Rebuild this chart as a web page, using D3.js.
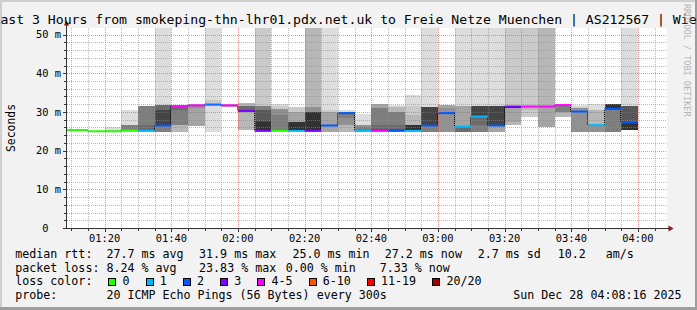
<!DOCTYPE html>
<html>
<head>
<meta charset="utf-8">
<script src="https://cdn.jsdelivr.net/npm/d3@7"></script>
<style>
  body { margin: 0; background: #f2f2f2; }
  svg { display: block; font-family: "DejaVu Sans Mono", monospace; }
  text { white-space: pre; }
</style>
</head>
<body>
<svg id="graph" width="697" height="310"></svg>
<script>
// 5 minute bins (start time), median rtt in ms, lost pings out of 20
var binTimes = ["01:05","01:10","01:15","01:20","01:25","01:30","01:35","01:40","01:45","01:50",
  "01:55","02:00","02:05","02:10","02:15","02:20","02:25","02:30","02:35","02:40",
  "02:45","02:50","02:55","03:00","03:05","03:10","03:15","03:20","03:25","03:30",
  "03:35","03:40","03:45","03:50","03:55"];
var medians = [25.3,25.3,25.0,25.0,25.2,25.1,26.5,31.4,31.7,31.9,
  31.7,30.3,25.1,25.1,25.1,25.1,26.5,29.7,25.1,25.1,
  25.1,25.1,26.5,29.7,26.2,28.8,26.5,31.4,31.4,31.4,
  31.8,30.1,26.6,30.8,27.3];
var losses = [0,0,0,0,0,1,2,5,5,2,
  5,3,3,0,1,3,2,2,1,4,
  2,1,2,2,1,1,2,3,5,4,
  4,2,1,2,2];
// sorted ping rtts (ms) per bin, 20 pings -> smoke
var pings = [
  [25.1,25.1,25.2,25.2,25.2,25.2,25.3,25.3,25.3,25.3, 25.3,25.3,25.3,25.3,25.4,25.4,25.4,25.4,25.5,25.5],
  [25.1,25.1,25.2,25.2,25.2,25.2,25.3,25.3,25.3,25.3, 25.3,25.3,25.3,25.3,25.4,25.4,25.4,25.4,25.5,25.5],
  [24.8,24.8,24.9,24.9,24.9,24.9,25.0,25.0,25.0,25.0, 25.0,25.0,25.0,25.0,25.1,25.1,25.1,25.1,25.2,25.2],
  [24.8,24.8,24.9,24.9,24.9,24.9,25.0,25.0,25.0,25.0, 25.0,25.0,25.0,25.1,25.1,25.1,25.1,25.2,25.3,26.2],
  [24.9,24.9,25.0,25.0,25.0,25.1,25.1,25.1,25.2,25.2, 25.2,25.3,25.3,25.4,26.6,26.7,26.7,26.7,26.7,30.6],
  [24.9,25.0,25.0,25.0,25.0,25.1,25.1,25.1,25.1,25.1, 25.2,25.3,25.4,26.6,31.6,31.6,31.6,31.6,31.6,31.6],
  [24.9,24.9,24.9,24.9,24.9,24.9,26.4,26.4,26.4,26.4, 26.6,30.6,30.6,31.9,31.9,31.9,31.9,31.9,31.9,60],
  [24.9,24.9,24.9,26.7,26.7,26.7,30.4,31.2,31.2,31.2, 31.5,31.5,31.6,31.6,31.7,31.7,31.7,31.8,31.8,31.8],
  [26.4,26.4,26.4,26.4,31.0,31.5,31.5,31.5,31.5,31.6, 31.8,31.8,31.8,31.9,31.9,31.9,31.9,32.0,32.0,32.0],
  [24.9,31.8,31.8,31.8,31.8,31.8,31.8,31.8,31.8,31.8, 32.1,32.1,32.1,32.1,32.1,32.1,32.1,32.1,33.2,60],
  [31.3,31.4,31.4,31.5,31.5,31.6,31.6,31.6,31.7,31.7, 31.7,31.7,31.8,31.8,31.8,31.9,31.9,32.0,32.0,32.1],
  [25.3,25.3,25.3,30.1,30.1,30.1,30.1,30.1,30.2,30.2, 30.4,30.5,30.6,31.6,31.6,31.6,31.6,32.3,32.3,32.3],
  [25.0,25.0,25.0,25.0,25.0,25.0,25.1,25.1,25.1,25.2, 27.5,27.6,30.6,30.6,31.6,31.6,31.6,31.6,60,60],
  [25.0,25.0,25.0,25.0,25.0,25.0,25.1,25.1,25.1,25.1, 25.3,25.3,25.3,25.3,29.1,30.8,30.8,30.8,31.5,32.1],
  [25.0,25.0,25.0,25.0,25.1,25.1,25.1,25.2,25.2,25.3, 27.5,27.5,27.5,27.5,27.5,27.5,30.1,30.1,31.4,31.4],
  [25.0,25.0,25.0,25.0,25.0,25.1,25.1,25.1,25.1,25.2, 30.1,30.1,30.1,30.1,30.1,31.4,31.4,60,60,60],
  [24.9,24.9,24.9,24.9,26.4,26.4,26.4,26.4,26.4,26.4, 26.6,26.6,26.6,26.6,26.6,26.6,30.1,30.1,30.6,60],
  [24.9,24.9,24.9,26.7,26.7,28.4,29.5,29.5,29.5,29.5, 29.9,30.0,30.0,30.0,30.0,30.0,30.0,30.0,30.0,30.6],
  [24.9,24.9,25.0,25.0,25.0,25.0,25.0,25.1,25.1,25.1, 25.2,25.3,25.3,25.4,26.2,26.7,26.7,26.7,26.7,29.5],
  [25.0,25.0,25.0,25.0,25.0,25.0,25.0,25.1,25.1,25.1, 25.2,25.4,25.5,26.7,31.0,31.0,32.1,32.1,32.1,32.1],
  [25.0,25.0,25.0,25.0,25.0,25.0,25.0,25.1,25.1,25.1, 25.3,25.4,25.5,26.5,30.1,30.1,30.1,31.4,31.4,31.9],
  [24.9,24.9,25.0,25.0,25.0,25.0,25.0,25.1,25.1,25.2, 26.6,26.6,26.6,26.6,26.6,26.6,26.7,29.3,31.6,34.3],
  [24.9,24.9,24.9,24.9,24.9,24.9,26.4,26.4,26.4,26.4, 26.6,31.4,31.4,31.4,31.4,31.4,31.4,31.4,31.4,60],
  [24.9,24.9,24.9,24.9,24.9,29.5,29.5,29.5,29.6,29.6, 29.8,29.9,29.9,29.9,29.9,31.0,31.9,31.9,31.9,31.9],
  [24.9,24.9,24.9,24.9,24.9,24.9,24.9,26.1,26.1,26.1, 26.3,26.3,26.3,26.3,26.3,26.3,31.6,31.6,31.6,60],
  [24.9,24.9,24.9,24.9,24.9,24.9,26.7,28.7,28.7,28.7, 28.9,31.6,31.6,31.6,31.6,31.6,31.6,31.6,31.6,60],
  [24.9,24.9,24.9,24.9,26.4,26.4,26.4,26.4,26.4,26.4, 26.6,31.6,31.6,31.6,31.6,31.6,31.6,31.6,31.6,60],
  [26.5,26.5,26.5,27.5,31.0,31.0,31.0,31.0,31.0,31.0, 31.5,31.5,31.5,31.5,31.5,31.5,31.5,31.5,60,60],
  [28.6,28.6,30.6,31.2,31.2,31.2,31.2,31.2,31.2,31.2, 31.5,31.5,31.5,31.5,31.5,31.5,31.5,31.5,60,60],
  [26.2,26.2,26.2,26.2,31.2,31.2,31.2,31.2,31.2,31.2, 31.5,31.5,31.5,31.5,31.5,31.5,31.5,60,60,60],
  [28.8,28.8,28.8,30.1,30.1,30.1,31.6,31.6,31.6,31.6, 31.9,31.9,31.9,31.9,31.9,31.9,31.9,31.9,31.9,32.1],
  [24.9,24.9,24.9,24.9,24.9,30.0,30.0,30.0,30.0,30.0, 30.2,30.2,30.2,30.2,30.2,31.1,31.1,31.1,31.2,31.8],
  [24.9,24.9,24.9,24.9,24.9,26.5,26.5,26.5,26.5,26.5, 26.7,26.7,26.7,26.7,26.7,26.7,26.7,30.6,30.6,32.1],
  [24.9,24.9,24.9,24.9,24.9,24.9,30.6,30.6,30.6,30.8, 32.1,32.1,32.1,32.1,32.1,32.1,32.1,32.1,32.1,32.1],
  [25.4,25.4,25.4,25.4,25.4,25.4,25.4,25.4,25.4,25.4, 27.4,27.4,31.6,31.6,31.6,31.6,31.6,31.6,31.6,60]
];

var lossLabels = ["0","1","2","3","4-5","6-10","11-19","20/20"];
var lossColors = ["#26ff00","#00b8ff","#0059ff","#7e00ff","#ff00ff","#ff5500","#ff0000","#a00000"];
var lossUpper = [0,1,2,3,5,10,19,20];

var yTicks = [0,10,20,30,40,50];
var yTickLabels = ["0  ","10 m","20 m","30 m","40 m","50 m"];
var xTickLabels = ["01:20","01:40","02:00","02:20","02:40","03:00","03:20","03:40","04:00"];

var titleText = "Last 3 Hours from smokeping-thn-lhr01.pdx.net.uk to Freie Netze Muenchen | AS212567 | Wien";
var rttStats = ["27.7 ms avg","31.9 ms max","25.0 ms min","27.2 ms now","2.7 ms sd","10.2","am/s"];
var lossStats = ["8.24 % avg","23.83 % max","0.00 % min","7.33 % now"];
var probeText = "20 ICMP Echo Pings (56 Bytes) every 300s";
var dateText = "Sun Dec 28 04:08:16 2025";
var endStamp = "2025-12-28 04:08:16";

// layout (plotTop, not "top": window.top is read only)
var W = 697, H = 310;
var plotLeft = 67, plotRight = 667, plotTop = 28, plotBottom = 228;
var rttX = [107.3,200,293.3,385.7,478.7,558.7,606.7];
var lossX = [107.3,200,286.7,380.7];
var charW = 7.03;

var parse = d3.timeParse("%Y-%m-%d %H:%M:%S");
var endTime = parse(endStamp);
var startTime = d3.timeHour.offset(endTime, -3);
var binDates = binTimes.map(function(s){ return parse(endStamp.slice(0,10) + " " + s + ":00"); });

var x = d3.scaleTime().domain([startTime, endTime]).range([65.5, 665.5]);
var y = d3.scaleLinear().domain([0, 51.7]).range([plotBottom, plotTop]);

var svg = d3.select("#graph");

svg.append("rect").attr("width", W).attr("height", H).attr("fill", "#f2f2f2");
// 3d frame
svg.append("path").attr("d","M0,0H697V2H0Z M0,0H2V310H0Z").attr("fill","#cfcfcf");
svg.append("path").attr("d","M0,307H697V310H0Z M695,0H697V310H695Z").attr("fill","#9e9e9e");

svg.append("defs").append("clipPath").attr("id","canvasClip")
  .append("rect").attr("x", plotLeft).attr("y", plotTop)
  .attr("width", plotRight-plotLeft).attr("height", plotBottom-plotTop);

svg.append("rect").attr("x", plotLeft).attr("y", plotTop)
  .attr("width", plotRight-plotLeft).attr("height", plotBottom-plotTop)
  .attr("fill", "#fff");

var plot = svg.append("g").attr("clip-path", "url(#canvasClip)");

// smoke: band i spans ping i .. ping (21-i), inner bands darker
var bands = [];
pings.forEach(function(p, k){
  var t0 = binDates[k], t1 = d3.timeMinute.offset(t0, 5);
  for (var i = 1; i <= 10; i++) {
    var g = Math.floor(190/10*(10-i)) + 50;
    bands.push({x0: x(t0), x1: x(t1), lo: p[i-1], hi: p[20-i], grey: d3.rgb(g,g,g).toString()});
  }
});
plot.selectAll("rect.smoke").data(bands).enter().append("rect")
  .attr("class","smoke")
  .attr("x", function(d){ return d.x0; })
  .attr("width", function(d){ return d.x1 - d.x0; })
  .attr("y", function(d){ return y(d.hi); })
  .attr("height", function(d){ return Math.max(0, y(d.lo) - y(d.hi)); })
  .attr("fill", function(d){ return d.grey; })
  .attr("shape-rendering","crispEdges");

// dashed steps between medians
var steps = d3.range(medians.length - 1).map(function(k){
  return {x: Math.round(x(d3.timeMinute.offset(binDates[k],5))) - 0.5, a: medians[k], b: medians[k+1]};
});
plot.selectAll("line.step").data(steps).enter().append("line")
  .attr("x1", function(d){ return d.x; }).attr("x2", function(d){ return d.x; })
  .attr("y1", function(d){ return y(d.a); }).attr("y2", function(d){ return y(d.b); })
  .attr("stroke","#000").attr("stroke-width",1).attr("stroke-dasharray","1,1");

function lossIndex(l){
  for (var i = 0; i < lossUpper.length; i++) if (l <= lossUpper[i]) return i;
  return lossUpper.length - 1;
}

plot.selectAll("line.median").data(medians).enter().append("line")
  .attr("x1", function(d,k){ return x(binDates[k]); })
  .attr("x2", function(d,k){ return x(d3.timeMinute.offset(binDates[k],5)); })
  .attr("y1", function(d){ return y(d); })
  .attr("y2", function(d){ return y(d); })
  .attr("stroke", function(d,k){ return lossColors[lossIndex(losses[k])]; })
  .attr("stroke-width", 2);

// grid on top
var grid = svg.append("g").attr("shape-rendering","crispEdges");
var minorX = x.ticks(d3.timeMinute.every(5));
var majorDates = xTickLabels.map(function(s){ return parse(endStamp.slice(0,10) + " " + s + ":00"); });
var majorSet = majorDates.map(function(d){ return +d; });
var minorCol = "rgba(140,140,140,0.6)", majorCol = "rgba(222,79,79,0.6)";

grid.selectAll("line.vmin").data(minorX.filter(function(d){ return majorSet.indexOf(+d) < 0; }))
  .enter().append("line")
  .attr("x1", function(d){ return Math.round(x(d)) + 0.5; })
  .attr("x2", function(d){ return Math.round(x(d)) + 0.5; })
  .attr("y1", plotTop).attr("y2", plotBottom)
  .attr("stroke", minorCol).attr("stroke-dasharray","1,1");

var minorY = d3.range(2, 51.7, 2).filter(function(v){ return yTicks.indexOf(v) < 0; });
grid.selectAll("line.hmin").data(minorY).enter().append("line")
  .attr("x1", plotLeft).attr("x2", plotRight)
  .attr("y1", function(d){ return Math.round(y(d)) + 0.5; })
  .attr("y2", function(d){ return Math.round(y(d)) + 0.5; })
  .attr("stroke", minorCol).attr("stroke-dasharray","1,1");

grid.selectAll("line.vmaj").data(majorDates).enter().append("line")
  .attr("x1", function(d){ return Math.round(x(d)) + 0.5; })
  .attr("x2", function(d){ return Math.round(x(d)) + 0.5; })
  .attr("y1", plotTop).attr("y2", plotBottom)
  .attr("stroke", majorCol).attr("stroke-dasharray","1,1");

grid.selectAll("line.hmaj").data(yTicks.slice(1)).enter().append("line")
  .attr("x1", plotLeft).attr("x2", plotRight)
  .attr("y1", function(d){ return Math.round(y(d)) + 0.5; })
  .attr("y2", function(d){ return Math.round(y(d)) + 0.5; })
  .attr("stroke", majorCol).attr("stroke-dasharray","1,1");

// axes
var axisCol = "#333";
var ax = svg.append("g").attr("shape-rendering","crispEdges");
ax.append("line").attr("x1", plotLeft - 0.5).attr("x2", plotLeft - 0.5)
  .attr("y1", plotBottom + 1).attr("y2", 25).attr("stroke", axisCol);
ax.append("line").attr("x1", plotLeft - 1).attr("x2", 669)
  .attr("y1", plotBottom + 0.5).attr("y2", plotBottom + 0.5).attr("stroke", axisCol);
ax.selectAll("line.xt").data(minorX).enter().append("line")
  .attr("x1", function(d){ return Math.round(x(d)) + 0.5; })
  .attr("x2", function(d){ return Math.round(x(d)) + 0.5; })
  .attr("y1", plotBottom)
  .attr("y2", function(d){ return majorSet.indexOf(+d) < 0 ? plotBottom + 3 : plotBottom + 4; })
  .attr("stroke", axisCol);
ax.selectAll("line.yt").data(d3.range(0, 51.7, 2)).enter().append("line")
  .attr("x1", function(d){ return yTicks.indexOf(d) < 0 ? plotLeft - 3 : plotLeft - 4; })
  .attr("x2", plotLeft)
  .attr("y1", function(d){ return Math.round(y(d)) + 0.5; })
  .attr("y2", function(d){ return Math.round(y(d)) + 0.5; })
  .attr("stroke", axisCol);
svg.append("path").attr("d","M63.8,25.5L66.5,20.5L69.2,25.5Z").attr("fill","#8e1414");
svg.append("path").attr("d","M668.5,225.6L673.5,228.5L668.5,231.4Z").attr("fill","#8e1414");

// tick labels
svg.selectAll("text.ylab").data(yTicks).enter().append("text")
  .attr("x", 61).attr("y", function(d){ return y(d) + 3.8; })
  .attr("text-anchor","end").attr("font-size","10.4px").attr("fill","#000")
  .text(function(d,i){ return yTickLabels[i]; });

svg.selectAll("text.xlab").data(majorDates).enter().append("text")
  .attr("x", function(d){ return x(d); }).attr("y", 241.5)
  .attr("text-anchor","middle").attr("font-size","10.4px").attr("fill","#000")
  .text(function(d,i){ return xTickLabels[i]; });

// title and side labels
svg.append("text").attr("x", 348.5).attr("y", 24).attr("text-anchor","middle")
  .attr("font-size","13.15px").attr("fill","#000").text(titleText);
svg.append("text").attr("transform","translate(15,128) rotate(-90)").attr("text-anchor","middle")
  .attr("font-size","11.4px").attr("fill","#000").text("Seconds");
svg.append("text").attr("transform","translate(683.5,4) rotate(90)")
  .attr("font-size","8.5px").attr("fill","#b4b4b4").text("RRDTOOL / TOBI OETIKER");

// legend
var lg = svg.append("g").attr("font-size","11.65px").attr("fill","#000");
var rows = [258.2, 271.6, 285.2, 298.6];
lg.append("text").attr("x", 15.3).attr("y", rows[0]).text("median rtt:");
lg.selectAll("text.rtt").data(rttStats).enter().append("text")
  .attr("x", function(d,i){ return rttX[i] - 0.9; }).attr("y", rows[0]).text(function(d){ return d; });
lg.append("text").attr("x", 15.3).attr("y", rows[1]).text("packet loss:");
lg.selectAll("text.loss").data(lossStats).enter().append("text")
  .attr("x", function(d,i){ return lossX[i] - 0.9; }).attr("y", rows[1]).text(function(d){ return d; });
lg.append("text").attr("x", 15.3).attr("y", rows[2]).text("loss color:");
var bx = 108.3;
lossLabels.forEach(function(l, i){
  lg.append("rect").attr("x", bx + 0.5).attr("y", 278).attr("width", 7).attr("height", 7)
    .attr("fill", lossColors[i]).attr("stroke","#000").attr("shape-rendering","crispEdges");
  lg.append("text").attr("x", bx + 14.2).attr("y", rows[2]).text(l);
  bx += 15 + l.length * charW + 15.2;
});
lg.append("text").attr("x", 15.3).attr("y", rows[3]).text("probe:");
lg.append("text").attr("x", 106.4).attr("y", rows[3]).text(probeText);
lg.append("text").attr("x", 681.5).attr("y", rows[3]).attr("text-anchor","end").text(dateText);
</script>
</body>
</html>
